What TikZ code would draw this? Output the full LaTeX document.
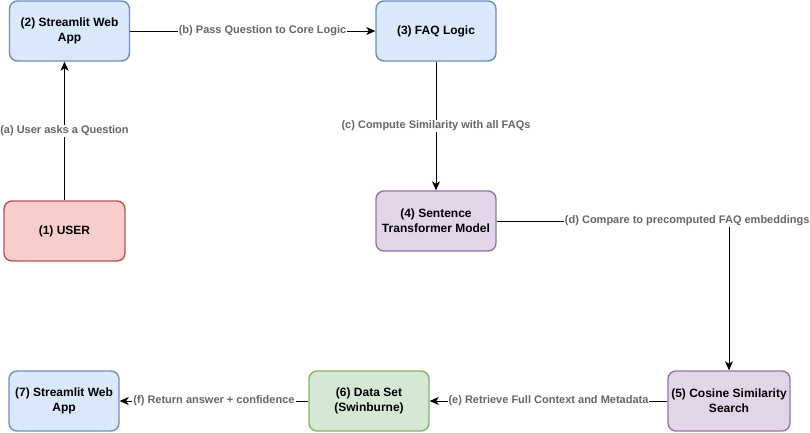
\documentclass[tikz,border=0pt]{standalone}
\usepackage{fontspec}
\setmainfont{Liberation Sans}
\usetikzlibrary{arrows.meta}
\definecolor{userfill}{HTML}{F8CECC}
\definecolor{userline}{HTML}{B85450}
\definecolor{appfill}{HTML}{DAE8FC}
\definecolor{appline}{HTML}{6C8EBF}
\definecolor{modelfill}{HTML}{E1D5E7}
\definecolor{modelline}{HTML}{9673A6}
\definecolor{datafill}{HTML}{D5E8D4}
\definecolor{dataline}{HTML}{82B366}
\definecolor{notegray}{HTML}{666666}
\tikzstyle{box}=[draw,line width=1.4pt,rounded corners=8pt,minimum width=120pt,minimum height=60pt,align=center,font=\bfseries\fontsize{12}{15}\selectfont]
\tikzstyle{flow}=[draw=black,line width=0.9pt,-{Stealth[length=9pt,width=8pt,inset=2.5pt]}]
\tikzstyle{note}=[fill=white,text=notegray,inner sep=1pt,font=\bfseries\fontsize{11}{13}\selectfont]

\begin{document}
\begin{tikzpicture}[x=1pt,y=-1pt]
\useasboundingbox (0,0) rectangle (810,432);
\node[box,fill=userfill,draw=userline,minimum width=121pt] (user) at (64.5,231) {(1) USER};
\node[box,fill=appfill,draw=appline] (app) at (69.5,31) {(2) Streamlit Web\\App};
\node[box,fill=appfill,draw=appline] (logic) at (436,31) {(3) FAQ Logic};
\node[box,fill=modelfill,draw=modelline] (model) at (436,221) {(4) Sentence\\Transformer Model};
\node[box,fill=modelfill,draw=modelline] (cosine) at (729,401) {(5) Cosine Similarity\\Search};
\node[box,fill=datafill,draw=dataline] (data) at (369,401) {(6) Data Set\\(Swinburne)};
\node[box,fill=appfill,draw=appline,minimum width=110pt] (answer) at (64,401) {(7) Streamlit Web\\App};
\draw[flow] (user.north) -- node[note] {(a) User asks a Question} (user.north |- app.south);
\draw[flow] (app) -- node[note,pos=0.54] {(b) Pass Question to Core Logic} (logic);
\draw[flow] (logic) -- node[note] {(c) Compute Similarity with all FAQs} (model);
\draw[flow] (model) -| node[note,pos=0.41] {(d) Compare to precomputed FAQ embeddings} (cosine);
\draw[flow] (cosine) -- node[note] {(e) Retrieve Full Context and Metadata} (data);
\draw[flow] (data) -- node[note] {(f) Return answer + confidence} (answer);
\end{tikzpicture}
\end{document}
